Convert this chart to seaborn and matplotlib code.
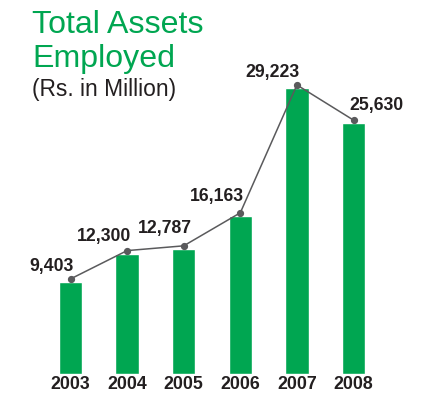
import matplotlib
matplotlib.use("Agg")
import matplotlib.pyplot as plt
import matplotlib.transforms as mtransforms
import seaborn as sns
import pandas as pd

# Total assets employed, Rs. in million
years = ["2003", "2004", "2005", "2006", "2007", "2008"]
assets = [9403, 12300, 12787, 16163, 29223, 25630]
value_labels = ["9,403", "12,300", "12,787", "16,163", "29,223", "25,630"]
# label offsets from each point, in pixels
label_dx = [-19, -23, -19, -23, -24, 23]
label_dy = [12.5, 14, 17.5, 16, 12, 15]

GREEN = "#00A651"
DARK = "#231F20"
LINE = "#5A5A5C"

sns.set_theme(style="white")
plt.rcParams["font.family"] = ["Liberation Sans", "DejaVu Sans"]

df = pd.DataFrame({"year": years, "assets": assets})

DPI = 100
fig = plt.figure(figsize=(437 / DPI, 398 / DPI), dpi=DPI)
ax = fig.add_axes([42.2 / 437, 24 / 398, 339.6 / 437, 342.6 / 398])

sns.barplot(data=df, x="year", y="assets", color=GREEN, saturation=1,
            width=0.41, ax=ax)

# trend line sitting just above the bar tops
shift = mtransforms.ScaledTranslation(0, 3 / DPI, fig.dpi_scale_trans)
xs = list(range(len(years)))
ax.plot(xs, assets, color=LINE, lw=1.1, marker="o", markersize=4.2,
        transform=ax.transData + shift, zorder=3)

for x, v, lab, dx, dy in zip(xs, assets, value_labels, label_dx, label_dy):
    ax.annotate(lab, (x, v), xytext=(dx, dy + 3), textcoords="offset pixels",
                ha="center", va="center", fontsize=12.7, fontweight="bold",
                color=DARK)

ax.set_xlim(-0.5, 5.5)
ax.set_ylim(0, 35000)
ax.set_xlabel("")
ax.set_ylabel("")
ax.set_yticks([])
ax.tick_params(axis="x", length=0, pad=1.5, labelsize=12.8, labelcolor=DARK)
for t in ax.get_xticklabels():
    t.set_fontweight("bold")
for s in ax.spines.values():
    s.set_visible(False)
ax.set_facecolor("none")

fig.text(32 / 437, 1 - 33 / 398, "Total Assets", color=GREEN, fontsize=23.1,
         ha="left", va="baseline")
fig.text(32 / 437, 1 - 67 / 398, "Employed", color=GREEN, fontsize=23.1,
         ha="left", va="baseline")
fig.text(32 / 437, 1 - 96 / 398, "(Rs. in Million)", color=DARK, fontsize=16.4,
         ha="left", va="baseline")

fig.savefig("out.png", dpi=DPI)
